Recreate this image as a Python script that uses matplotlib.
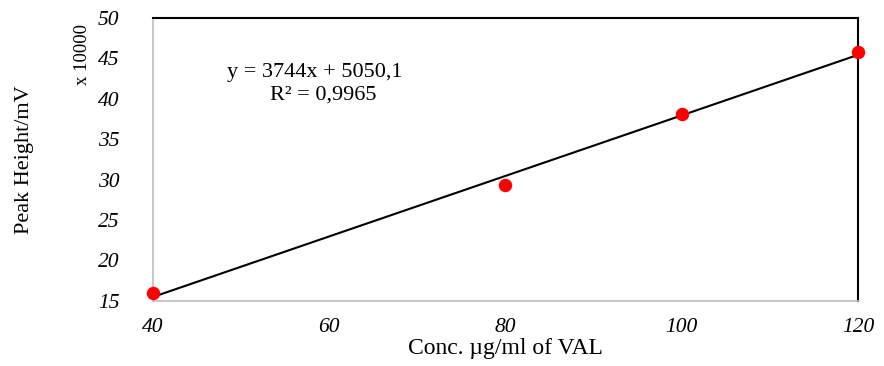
import numpy as np
import matplotlib.pyplot as plt

plt.rcParams['font.family'] = ['Liberation Serif', 'DejaVu Serif']

# data (peak height in units of 10000)
conc = [40, 80, 100, 120]
peak = [16.0, 29.35, 38.1, 45.8]
slope = 3744
intercept = 5050.1
r2 = 0.9965

fig = plt.figure(figsize=(8.84, 3.66), dpi=100)
ax = fig.add_axes([0.173, 0.178, 0.7976, 0.773])

xfit = np.array([40, 120])
yfit = (slope * xfit + intercept) / 10000
ax.plot(xfit, yfit, color='black', lw=1.5, zorder=2)
ax.scatter(conc, peak, s=75, color='#ff0000', zorder=3, clip_on=False)

ax.set_xlim(40, 120)
ax.set_ylim(15, 50)
ax.set_xticks([40, 60, 80, 100, 120])
ax.set_yticks(range(15, 51, 5))
ax.tick_params(length=0, labelsize=15.5)
ax.tick_params(axis='x', pad=12)
ax.tick_params(axis='y', pad=24)
for lab in ax.get_xticklabels() + ax.get_yticklabels():
    lab.set_fontstyle('italic')

for s in ['left', 'bottom']:
    ax.spines[s].set_color('#bfbfbf')
    ax.spines[s].set_linewidth(1.2)
for s in ['top', 'right']:
    ax.spines[s].set_color('black')
    ax.spines[s].set_linewidth(1.5)

ax.set_xlabel('Conc. \u00b5g/ml of VAL', fontsize=17, labelpad=1)
ax.set_ylabel('Peak Height/mV', fontsize=16, labelpad=46)
fig.text(0.093, 0.85, 'x 10000', rotation=90, fontsize=13.5, ha='center', va='center')

fig.text(0.257, 0.803, 'y = 3744x + 5050,1', fontsize=16, ha='left', va='center')
fig.text(0.305, 0.740, 'R\u00b2 = %s' % str(r2).replace('.', ','), fontsize=16,
         ha='left', va='center')

fig.savefig('out.png', dpi=100)
